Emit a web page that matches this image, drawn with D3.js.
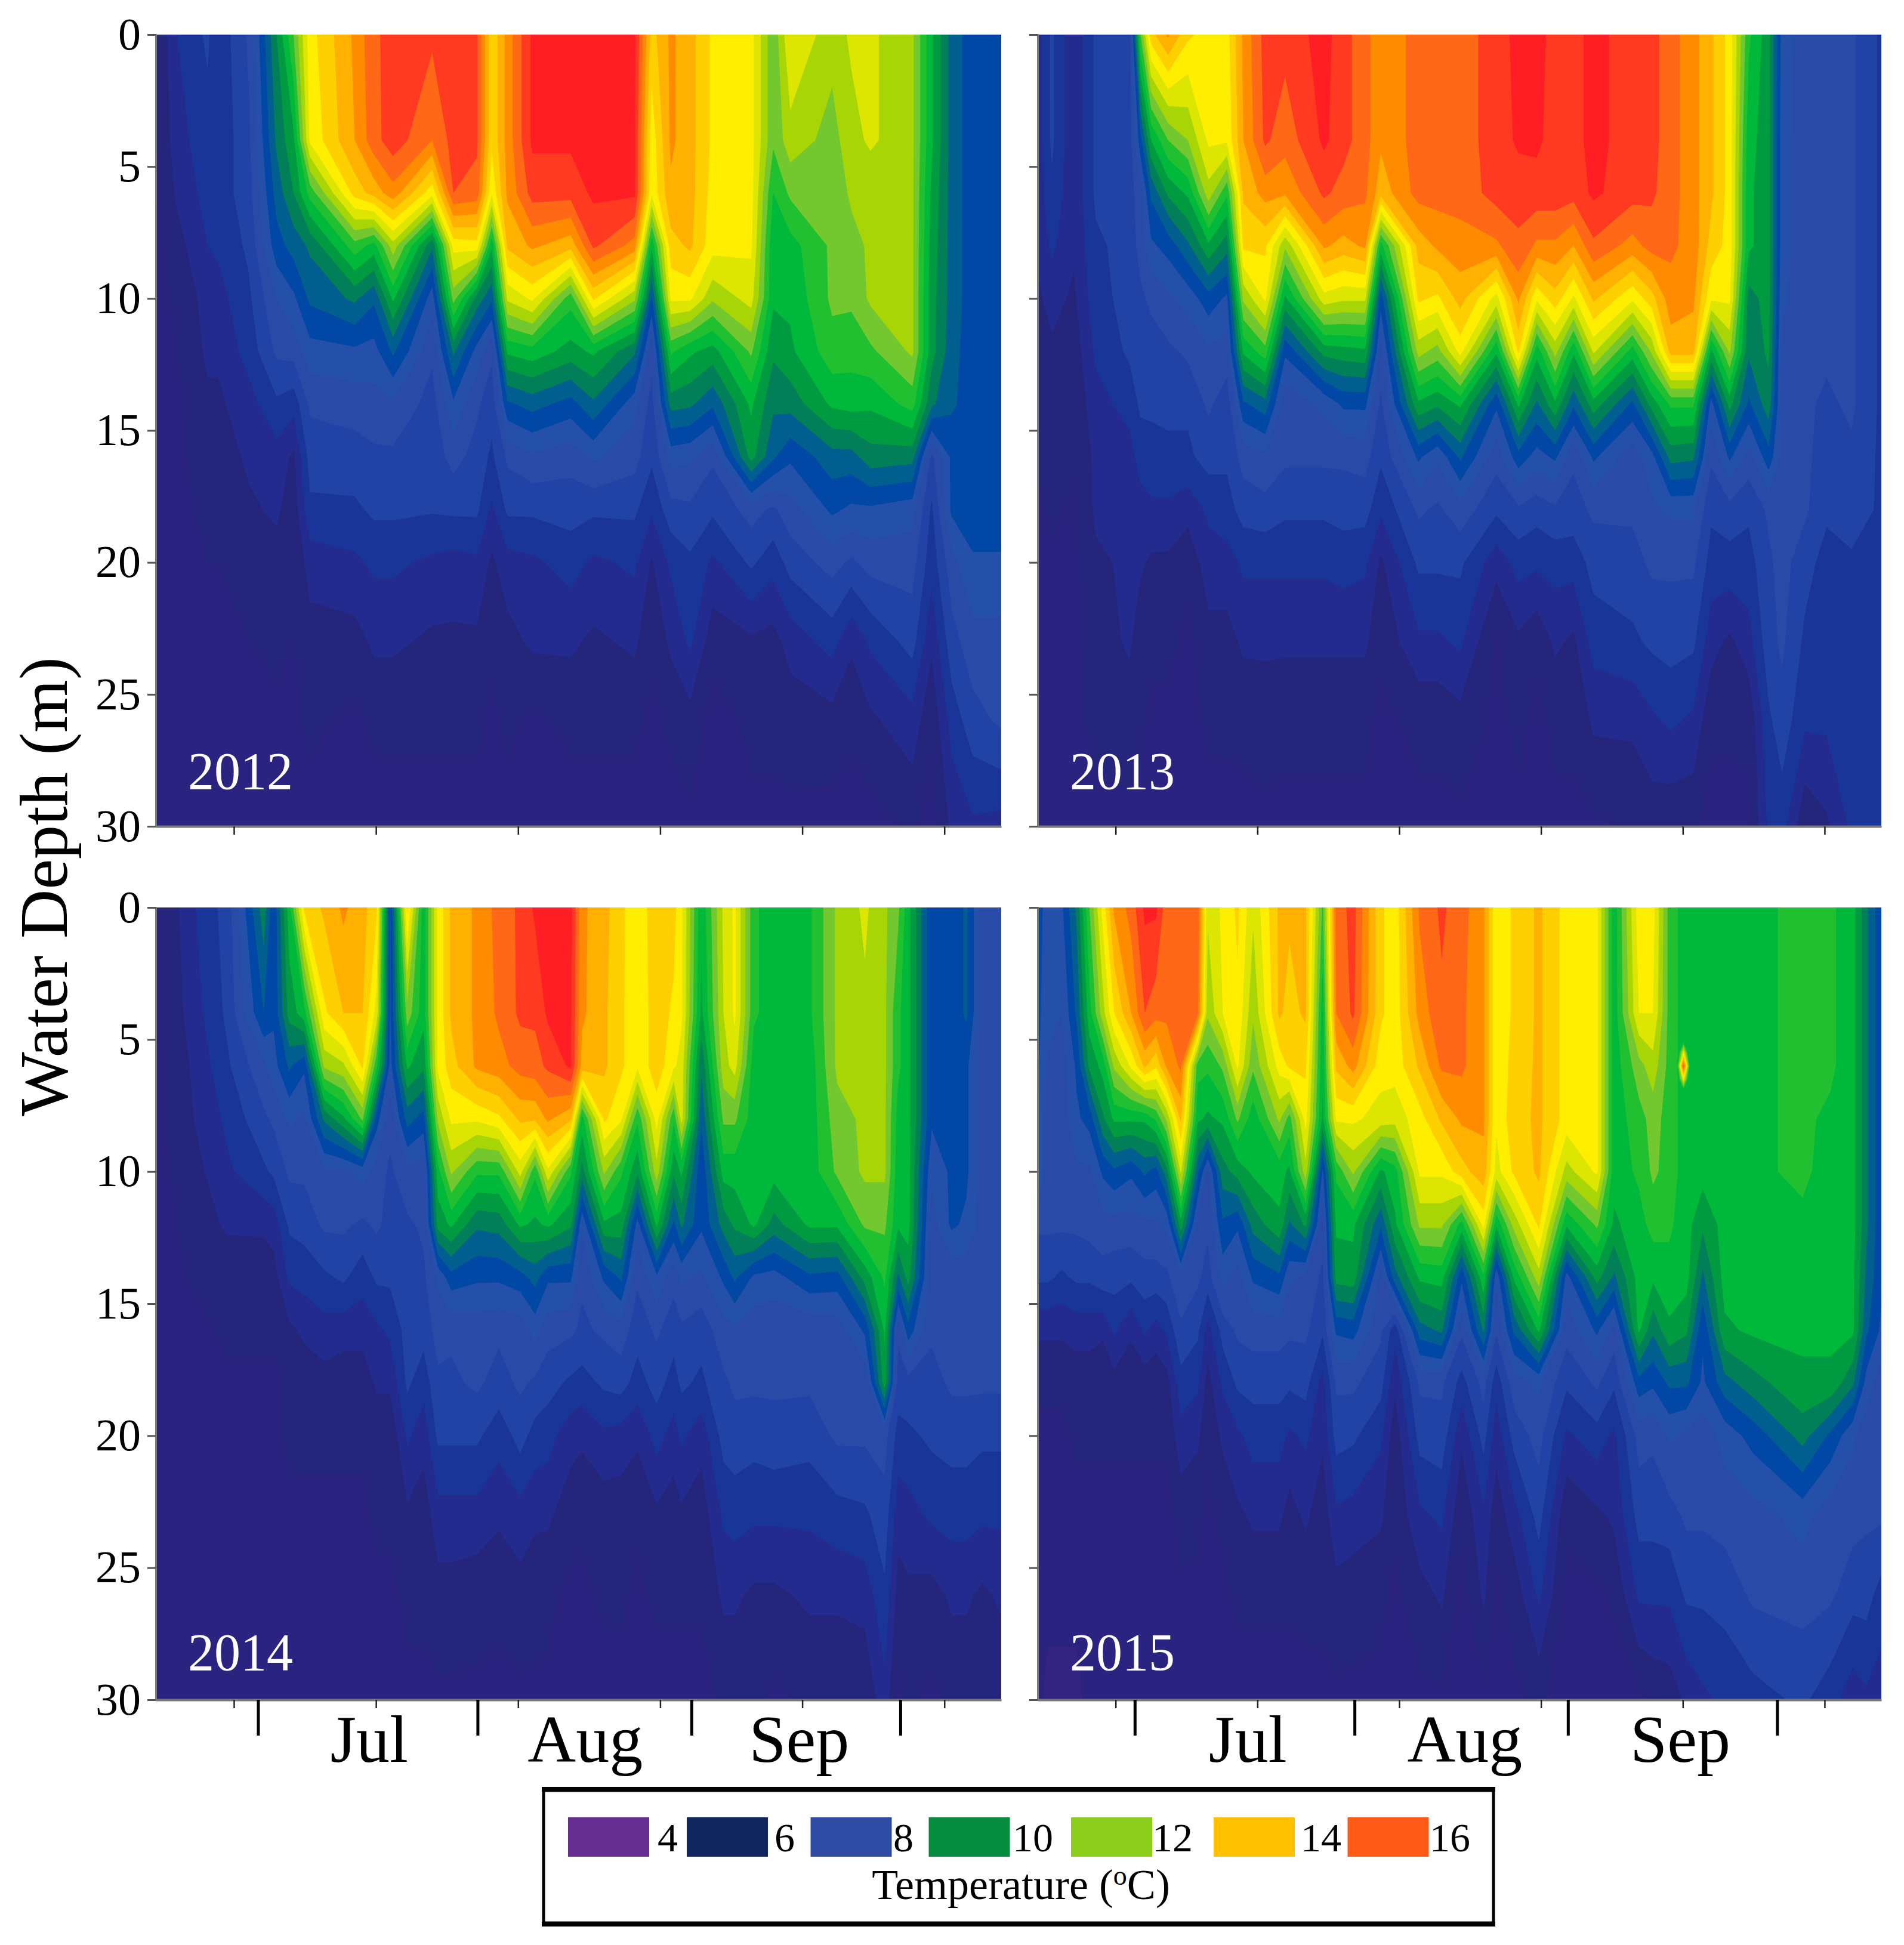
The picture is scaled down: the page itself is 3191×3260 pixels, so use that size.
<!DOCTYPE html>
<html>
<head>
<meta charset="utf-8">
<style>
  body { margin: 0; background: #fff; }
  text { font-family: "Liberation Serif", serif; fill: #000; }
</style>
<script src="https://d3js.org/d3.v7.min.js"></script>
</head>
<body>
<script>
// depth rows of every temperature table (m)
var depths = [0, 4, 6, 8, 10, 12, 14, 16, 18, 20, 23, 26, 30];

// day number of each column, then one temperature profile per column (deg C)
var days2012 = [159,162,166.3,167.8,172.1,176,178.4,180.7,187,189.7,192.4,197.9,200.9,204.2,206.3,208.5,212,217.4,220.6,226.4,228.8,231.5,234.2,237.4,242.8,245.9,248.3,254.2,256.9,259.6,265.5,268.2,271,274,278];
var temp2012 = [
  [5.4,5.4,5.3,5.3,5.3,5.3,5.3,5.3,5.2,5.2,5.2,5.2,5.2],
  [6.5,6.3,6.1,5.8,5.6,5.5,5.4,5.4,5.4,5.3,5.3,5.2,5.2],
  [7.1,6.8,6.7,6.5,6.2,6.1,5.9,5.7,5.6,5.5,5.4,5.3,5.2],
  [6.6,6.6,6.7,6.6,6.3,6.1,5.9,5.7,5.6,5.5,5.4,5.3,5.2],
  [7.6,7.4,7.3,7.1,6.9,6.7,6.3,6.1,5.9,5.6,5.5,5.4,5.3],
  [10,9.6,9.2,8.8,8,7.6,6.9,6.3,6.1,5.8,5.6,5.4,5.3],
  [11.5,10.4,10,9.2,8.4,7.7,6.7,5.9,5.7,5.6,5.5,5.4,5.3],
  [13.3,13.1,11.2,9.6,9.1,8.3,7.6,7.2,6.9,6.2,5.8,5.6,5.3],
  [14.6,14.5,13.7,11.3,9.6,8.4,7.7,7.3,6.9,6.4,5.8,5.4,5.3],
  [15.4,15.3,14.2,10.8,9.1,8.3,7.8,7.4,7.1,6.6,6.1,5.6,5.3],
  [15.7,15.8,14.8,12.3,10.6,9.1,7.9,7.4,7.1,6.6,6.1,5.6,5.3],
  [15.6,15,13.2,9.6,8.2,7.6,7.3,7.2,7.05,6.4,5.9,5.6,5.3],
  [15.7,15.7,15.5,13.2,11.7,9.6,8.4,7.7,7.1,6.3,5.9,5.6,5.3],
  [15.6,15.6,15.3,13.3,9.8,8.3,7.6,7.3,7.1,6.4,5.9,5.6,5.3],
  [13.6,13.6,13.1,10.6,9.1,7.6,7.2,6.9,6.4,5.9,5.6,5.4,5.3],
  [14.7,14.7,14.6,14.1,12.6,10.6,8.9,7.6,7.1,6.3,5.8,5.6,5.3],
  [16.1,16.1,15.7,14.6,13.1,10.8,9.2,7.9,7.1,6.4,6.1,5.4,5.3],
  [16.1,16.1,15.7,14.2,11.2,10.3,8.8,7.7,7.2,6.7,6.1,5.6,5.3],
  [16.1,16.1,16.1,15.6,13.6,10.6,9.4,8.1,7.1,6.4,5.9,5.6,5.3],
  [16.1,16.1,16.1,14.8,12.1,9.6,8.2,7.7,7.1,6.6,6.1,5.6,5.3],
  [13.8,13.2,13.1,10.6,8.9,7.7,7.3,7.1,6.6,5.95,5.6,5.4,5.3],
  [14.6,14.6,14.4,13.8,13.1,11.1,9.7,8.2,7.3,6.6,6.1,5.6,5.3],
  [14.2,14.2,14.2,14.1,13.1,10.6,9.6,8.1,7.4,6.9,6.6,5.8,5.4],
  [13.4,13.4,13.3,13.2,12.1,10.3,9.1,7.6,7.1,6.4,5.7,5.3,5.2],
  [13.2,13.2,13.2,13.1,12.7,11.6,10.6,10.2,7.7,7.1,5.9,5.6,5.4],
  [11.6,11.6,11,10.6,10.6,10.1,9.6,9.1,7.4,6.7,5.8,5.6,5.4],
  [13,12.3,11.6,10.8,10.6,10.4,9.7,8.6,7.8,7.2,6.2,5.7,5.4],
  [12.2,11.8,11.6,11.6,11.6,11.3,10.6,9.3,8.6,7.7,6.7,5.8,5.3],
  [12.6,12.3,12.1,11.8,11.6,11.2,10.7,9.3,8.4,7.4,6.1,5.6,5.3],
  [12.6,12.6,12.1,12.1,12.1,11.4,10.6,9.8,8.4,7.7,6.6,5.9,5.3],
  [12.1,12.1,12.1,12.1,12.1,12.1,11.2,9.7,8.2,7.7,7.2,6.3,5.6],
  [10.6,10.6,10.4,10.3,10.2,10.2,9.6,7.4,6.9,6.7,6.1,5.6,5.3],
  [9.3,9.3,9.3,9.3,9.3,9.2,9.1,8.6,8.6,7.8,7.3,6.7,6.1],
  [8.7,8.7,8.7,8.7,8.7,8.7,8.7,8.7,8.7,8.45,7.8,7.3,6.4],
  [8.7,8.7,8.7,8.7,8.7,8.7,8.7,8.7,8.7,8.45,7.8,7.6,6.3]
];

var days2013 = [159,161,164.1,167.2,172,173.5,175,177.4,180.2,183.1,185.7,188,191.1,193.9,199.4,202.1,205.2,207.4,212.7,215.4,218.6,223.7,226.8,229.4,232,234.6,237.4,242.9,245.6,248.3,251.5,254,256.6,259.3,262.1,264,267.2,270.3,273.8,278];
var temp2013 = [
  [6.3,6.2,6.2,6.1,5.9,5.7,5.6,5.6,5.4,5.3,5.3,5.3,5.3],
  [7.1,7.1,6.9,6.6,6.2,5.9,5.7,5.6,5.6,5.4,5.3,5.3,5.3],
  [6.1,6.1,6.1,6.1,5.9,5.7,5.6,5.6,5.4,5.4,5.4,5.4,5.3],
  [7.1,7.1,7.1,6.9,6.8,6.6,6.3,6.1,6.1,5.9,5.7,5.6,5.4],
  [7.3,7.3,7.3,7.2,7.2,7.1,6.7,6.3,6.1,6.1,6.1,5.7,5.4],
  [11.5,8.8,7.8,7.7,7.4,7.2,7.1,6.7,6.3,6.1,5.6,5.6,5.4],
  [13.8,10.5,9.1,8.4,7.6,7.3,7.1,6.8,6.4,5.9,5.6,5.4,5.3],
  [14.6,11.5,10.1,8.7,7.9,7.4,7.1,6.9,6.4,5.9,5.6,5.4,5.3],
  [13.6,12,10.6,9.4,8.2,7.6,7.1,6.9,6.2,5.6,5.4,5.3,5.3],
  [13.3,13.1,12.3,10.4,8.8,7.9,7.6,7.2,6.6,6.3,5.8,5.6,5.3],
  [13.3,13.1,11.1,9.7,8.4,7.8,7.2,7.1,6.8,6.3,5.8,5.6,5.3],
  [14.6,14.5,14.1,13.6,12.1,10.6,8.9,7.7,7.2,6.6,6.1,5.6,5.4],
  [15.7,15.6,14.7,13.6,13.1,11.3,9.3,7.9,7.3,6.6,6.1,5.7,5.4],
  [15.7,15.2,14.6,12.1,10.4,8.6,7.7,7.6,7.1,6.6,6.1,5.6,5.4],
  [16.2,16.1,15.6,14.6,12.8,10.2,8.1,7.6,7.1,6.6,6.1,5.6,5.4],
  [15.7,15.7,15.3,14.3,12.6,10.3,8.6,7.6,7.2,6.7,6.1,5.6,5.4],
  [15.2,15.2,15.1,14.6,12.6,10.4,8.6,7.7,7.2,6.6,6.1,5.6,5.4],
  [14.6,14.6,14.2,10.8,8.7,7.8,7.4,7.1,6.6,5.9,5.6,5.4,5.3],
  [15.2,15.2,15.2,14.2,13.6,12.2,10.4,8.6,7.6,7.1,6.4,5.6,5.4],
  [15.2,15.2,15.2,14.6,13.4,11.8,10.1,8.1,7.4,7.1,6.4,5.6,5.4],
  [15.3,15.3,15.2,14.8,14.2,13.2,10.6,9.1,7.8,7.1,6.6,5.8,5.4],
  [15.7,15.7,15.7,14.9,12.8,10.6,8.6,7.7,7.1,6.2,5.4,5.4,5.3],
  [16.2,16.1,15.7,15.4,14.6,13.6,10.6,8.8,7.4,6.7,5.9,5.6,5.4],
  [16.2,16.1,15.8,14.9,13.1,10.7,9.4,8.3,7.2,6.6,5.6,5.4,5.3],
  [15.8,15.8,15.8,14.9,13.8,12.2,10.4,8.6,7.4,6.7,6.1,5.6,5.4],
  [15.8,15.8,15.7,14.5,12.9,10.6,9.1,7.6,7.3,6.7,5.9,5.6,5.4],
  [16.2,16.2,16.1,15.4,14.1,12.6,10.3,8.6,7.6,7.2,6.7,6.1,5.4],
  [15.7,15.7,15.7,14.8,13.1,10.8,8.9,7.7,7.6,7.3,6.9,6.1,5.6],
  [15.7,15.7,15.6,15.2,13.8,12.1,10.2,8.3,7.9,7.6,7.1,6.4,5.7],
  [15.2,15.2,15.2,15.1,14.8,14.2,11.1,9.7,8.1,7.6,7.2,6.6,5.6],
  [14.7,14.7,14.7,14.8,14.6,14.2,11.1,9.6,8.1,7.6,7.1,6.4,5.6],
  [14.1,14.1,14.1,13.8,13.1,10.4,8.3,7.6,7.1,6.8,6.2,5.6,5.3],
  [13.3,13.3,13.3,13.3,13.1,12.1,10.2,8.6,7.3,6.8,5.9,5.6,5.3],
  [11.1,10.7,10.6,10.6,9.8,9.6,8.9,7.8,7.1,6.8,6.3,5.6,5.4],
  [10.2,10.2,10.2,10.2,10.2,10.1,9.8,8.8,7.6,7.4,7.3,6.9,6.6],
  [8.3,8.2,8.2,8.2,8.1,7.9,7.9,7.9,7.7,7.7,7.6,7.3,6.7],
  [7.7,7.7,7.7,7.7,7.7,7.6,7.6,7.6,7.6,7.2,6.9,6.6,5.6],
  [7.7,7.7,7.7,7.6,7.6,7.6,7.4,7.3,7.1,6.8,6.7,6.6,5.9],
  [7.6,7.6,7.6,7.6,7.6,7.6,7.6,7.4,7.3,6.9,6.8,6.8,6.6],
  [6.9,6.9,6.9,6.9,6.9,6.9,6.9,6.9,6.9,6.9,6.9,6.9,6.8]
];

var days2014 = [159,165.1,169,174.2,175.6,177.8,179.9,182.7,185.4,188.1,190.1,192,194.4,196.7,198.7,200.6,204.2,207.3,210.3,212.4,214.2,217.4,219,222.1,224.5,226.8,229.5,231.9,233,235.8,238.9,240.5,243.2,246,251,254.9,258.8,261.6,263.5,264.9,268.2,271,273.1,275.3,278];
var temp2014 = [
  [5.3,5.3,5.3,5.3,5.3,5.3,5.3,5.3,5.3,5.3,5.3,5.3,5.3],
  [6.6,6.4,6.2,6.1,5.9,5.7,5.6,5.4,5.3,5.3,5.3,5.3,5.3],
  [7.2,7.1,6.9,6.6,6.4,6.1,5.6,5.6,5.4,5.3,5.3,5.3,5.3],
  [9.8,9,7.9,7.4,6.9,6.1,5.7,5.6,5.4,5.3,5.3,5.3,5.3],
  [8.6,8.6,8.3,7.6,7.1,6.2,5.8,5.6,5.4,5.4,5.3,5.3,5.3],
  [10.8,10.2,9.1,8.1,7.6,7.1,6.6,5.9,5.6,5.6,5.4,5.4,5.3],
  [13.6,10.8,8.6,7.9,7.6,7.2,6.7,6.1,5.7,5.6,5.4,5.4,5.3],
  [14.1,13.4,12.1,9.6,7.9,7.6,6.9,6.3,5.8,5.6,5.4,5.4,5.3],
  [14.6,14,12.4,10.4,7.9,7.6,7.1,6.2,5.7,5.6,5.4,5.4,5.3],
  [14.2,14,13.6,11.6,8.2,7.4,6.7,6.2,5.7,5.6,5.4,5.4,5.3],
  [13.6,12.8,11.1,8.7,7.8,7.6,7.1,6.4,6.1,5.6,5.6,5.4,5.3],
  [8.4,8.4,8.3,7.7,7.4,7.3,7.1,6.6,6.1,5.6,5.6,5.4,5.3],
  [13.6,11.8,10.6,9.2,7.9,7.4,7.3,7.2,7.1,6.6,5.9,5.6,5.4],
  [10.7,10.7,10.1,8.8,7.7,7.6,7.4,7.2,6.7,6.2,5.7,5.6,5.4],
  [13.1,13.1,13.1,12.1,10.8,10.2,8.1,7.7,7.4,7.1,6.3,5.8,5.4],
  [14.1,14.1,13.8,13.1,12.1,10.6,8.8,7.6,7.4,7.1,6.3,5.8,5.4],
  [14.6,14.6,14.6,13.1,11.1,9.6,8.6,7.7,7.6,7.1,6.3,5.7,5.4],
  [15.2,15.1,14.8,13.4,11.1,9.7,8.6,7.6,7.3,6.7,6.1,5.6,5.4],
  [15.6,15.6,15.2,14.1,12.7,10.6,8.8,7.7,7.6,7.2,6.3,5.8,5.4],
  [16.1,15.6,15.3,14.1,11.1,10.4,9.2,8.2,7.4,6.8,6.1,5.7,5.4],
  [16.2,16.1,15.6,14.6,12.9,10.6,8.6,7.7,7.2,6.7,6.1,5.6,5.4],
  [16.2,16.1,16.1,14.1,11.1,10.1,8.6,7.6,6.9,6.2,5.7,5.4,5.3],
  [14.6,14.6,14.3,10.8,9.8,8.1,7.6,7.4,6.8,6.1,5.6,5.4,5.3],
  [14.2,14.1,14.1,13.6,12.1,10.4,8.6,7.6,7.1,6.4,5.7,5.6,5.3],
  [13.6,13.6,13.6,13.1,11.1,10.3,9.1,7.8,7.2,6.3,5.7,5.6,5.3],
  [13.2,13.1,13.1,11.1,10.1,8.3,7.6,7.2,6.8,6.1,5.6,5.4,5.3],
  [13.8,13.8,13.8,13.2,12.3,10.6,8.4,7.6,7.2,6.7,5.9,5.6,5.3],
  [13.7,13.4,13.1,11.1,10.1,8.9,7.7,7.2,6.8,6.3,5.7,5.6,5.3],
  [13.1,13.1,12.8,12.7,10.6,9.6,8.1,7.4,7.1,6.6,5.9,5.6,5.3],
  [10.6,10.4,9.6,9.1,8.6,8.6,7.9,7.2,6.9,6.2,5.7,5.6,5.3],
  [12.6,12.5,12.3,11.6,10.7,9.7,8.6,7.8,7.4,7.2,6.6,6.1,5.6],
  [13.1,13.1,12.7,11.6,10.7,10.1,9.1,7.9,7.6,7.3,6.7,6.1,5.6],
  [11.1,11.1,10.7,10.7,10.7,10.6,8.4,7.7,7.6,7.2,6.6,5.9,5.6],
  [10.7,10.7,10.7,10.7,10.7,9.8,8.3,7.6,7.6,7.3,6.6,5.9,5.4],
  [10.9,10.9,10.7,10.7,10.7,10.6,8.9,7.6,7.6,7.2,6.6,6.1,5.6],
  [12.1,12.1,12.1,11.8,11.6,10.6,8.8,7.7,7.6,7.6,6.8,6.1,5.6],
  [12.6,12.4,12.1,12.1,12.1,11.6,10.2,8.6,7.6,7.6,6.9,6.2,5.6],
  [12.1,12.1,12.1,12.1,12.1,11.6,11.1,10.6,10.3,7.7,7.3,6.9,6.3],
  [11.6,11.1,11.1,10.8,10.7,10.6,9.4,7.6,7.3,6.8,6.2,5.8,5.4],
  [10.7,10.7,10.7,10.7,10.7,10.7,10.2,8.8,7.3,6.9,6.3,5.9,5.6],
  [8.6,8.6,8.6,8.6,8.1,7.8,7.7,7.6,7.3,7.1,6.6,5.8,5.4],
  [8.6,8.6,8.6,8.6,8.6,8.6,7.7,7.6,7.6,7.2,6.7,6.1,5.6],
  [9.1,9.1,8.6,8.6,8.6,8.4,7.7,7.6,7.6,7.2,6.7,6.1,5.6],
  [7.8,7.8,7.8,7.8,7.8,7.8,7.7,7.7,7.6,7.1,6.6,5.9,5.6],
  [7.9,7.9,7.9,7.9,7.7,7.7,7.6,7.6,7.6,7.1,6.6,6.1,5.6]
];

var days2015 = [159,160.4,162.4,164.5,166.3,168.2,169.8,172.2,174.1,175.7,177.2,179.2,181.6,183,185.1,187.2,189.4,193.1,194.5,196.8,199.2,201.1,203.5,207.4,209.4,212.9,216,218.8,221.9,223.7,226.2,229.7,233.6,237.9,240.3,243.8,245.8,248.1,250.5,252.8,255.9,259.9,266.9,270.8,274,275.9,278];
var temp2015 = [
  [8.6,8.6,8.6,8.6,8.6,7.6,7.1,6.1,5.6,5.4,5.3,5.2,5.1],
  [8.4,8.3,7.9,7.7,7.7,7.6,7.1,6.1,5.6,5.4,5.3,5.1,4.9],
  [8.4,8,7.7,7.7,7.7,7.6,6.9,6.1,5.6,5.4,5.3,5.1,4.9],
  [9.6,9.1,8.6,8.4,7.9,7.6,7.1,6.2,5.7,5.6,5.3,5.1,4.9],
  [11.5,10.8,10.1,8.7,7.9,7.7,7.1,6.2,5.7,5.6,5.3,5.2,5.1],
  [13.2,12.3,10.7,9.9,8.6,7.8,7.3,6.1,5.6,5.6,5.3,5.2,5.2],
  [14.6,13.5,12.1,10.6,8.9,7.8,7.2,6.6,5.8,5.6,5.3,5.2,5.2],
  [15.2,14.5,13.1,10.6,8.6,7.8,7.1,6.1,5.6,5.6,5.3,5.2,5.2],
  [16.1,15.5,14.1,10.6,9.1,7.9,7.3,6.6,5.7,5.6,5.3,5.2,5.2],
  [16.1,15.2,13.6,11.1,8.8,7.9,7.3,6.3,5.6,5.6,5.3,5.2,5.2],
  [15.2,15.1,14.6,12.1,9.8,8.1,7.4,6.6,5.8,5.6,5.3,5.2,5.2],
  [15.5,15.5,15.1,14.1,12.6,10.3,7.9,7.4,6.8,6.3,5.7,5.4,5.2],
  [15.3,15.1,11.2,10.6,9.1,7.8,7.6,7.1,6.6,6.1,5.6,5.4,5.2],
  [12.6,12.1,11.1,10.4,7.9,7.6,7.3,6.3,5.8,5.6,5.4,5.4,5.3],
  [13.1,13,11.6,10.6,9.8,8.9,8.2,7.2,6.6,6.1,5.6,5.4,5.3],
  [13.6,13.4,13.1,11.6,10.2,8.6,7.8,7.6,7.1,6.4,5.9,5.6,5.3],
  [12.6,12.1,11.6,10.7,10.6,9.7,8.6,7.7,7.2,6.7,6.1,5.6,5.3],
  [14.1,14.1,13.2,12.1,10.7,10.4,8.9,7.7,7.2,6.7,6.1,5.6,5.3],
  [14.1,13.8,13.6,11.3,10.4,9.4,8.1,7.6,7.1,6.4,5.8,5.6,5.3],
  [14.1,14.1,13.6,13.2,12.3,10.1,7.9,7.6,7.2,6.6,6.1,5.6,5.4],
  [11.4,10.7,10.6,10.4,8.4,7.7,7.4,7.1,6.3,6.1,5.7,5.6,5.4],
  [15.2,15,14.1,13.1,11.1,10.6,10.2,8.6,7.6,7.2,6.4,5.8,5.4],
  [15.7,15.6,14.7,13.1,12.1,10.6,10.3,8.7,7.6,7.1,6.3,5.7,5.4],
  [13.6,13.6,13.2,12.8,10.4,9.1,7.8,7.6,7.2,6.6,6.1,5.6,5.4],
  [13.2,13.2,13.2,12.7,10.8,10.4,9.3,6.7,6.1,5.7,5.6,5.4,5.3],
  [15.1,14.7,14.1,13.3,13.1,12.1,10.6,9.3,7.6,7.2,6.4,5.8,5.4],
  [15.6,15.4,15.1,14.1,13.1,12.1,10.7,9.6,7.6,7.3,6.6,6.1,5.4],
  [15.2,15.1,15.1,14.6,13.8,10.8,8.6,7.6,6.8,6.1,5.6,5.3,5.2],
  [14.6,14.6,14.6,14.6,14.3,13.2,10.9,9.6,7.7,7.2,6.4,6.1,5.4],
  [13.1,13.1,13.1,13.1,12.8,10.6,8.1,7.6,6.7,6.2,5.7,5.4,5.3],
  [13.6,13.6,13.7,13.8,13.6,12.2,10.6,9.1,7.8,7.2,6.3,5.7,5.4],
  [14.1,14.1,14.1,14.1,14.1,13.6,12.3,10.6,8.1,7.7,7.2,6.6,5.6],
  [13.3,13.3,13.3,13.3,12.3,10.6,8.3,7.7,7.1,6.4,5.6,5.4,5.2],
  [13.1,13.1,13.1,13.1,13.1,11.6,10.2,8.6,7.6,6.8,5.9,5.4,5.2],
  [10.7,10.7,10.7,10.7,10.7,10.4,9.4,7.8,7.1,6.4,6.1,5.6,5.2],
  [13.3,13,11.8,11.3,11.1,10.8,10.7,10.6,8.8,7.7,7.2,6.6,5.4],
  [13.2,13,12.3,11.7,11.6,11.2,10.6,9.6,8.6,7.6,7.2,6.6,5.6],
  [11.3,11.3,11.3,11.3,11.3,11.1,10.8,10.4,9.1,8.1,7.3,6.6,5.7],
  [10.7,10.7,10.7,10.7,10.7,10.7,10.7,10.1,9.1,7.9,7.6,7.1,6.1],
  [10.7,10.7,10.7,10.7,10.7,10.1,9.4,8.6,8.4,7.7,7.6,7.1,6.4],
  [10.7,10.7,10.7,10.7,10.7,10.7,10.7,10.4,9.3,8.2,7.7,7.2,6.6],
  [10.9,10.9,10.9,10.9,10.9,10.8,10.7,10.6,9.8,8.7,7.8,7.6,6.8],
  [11.1,11.1,11.1,11.1,11.1,10.9,10.7,10.6,10.4,9.7,8.2,7.7,7.1],
  [11.1,11.1,11.1,10.9,10.8,10.7,10.6,10.6,10.4,8.9,7.7,7.6,6.7],
  [10.7,10.7,10.7,10.7,10.7,10.7,10.6,10.6,9.6,8.1,7.7,7.2,6.2],
  [9.6,9.6,9.6,9.6,9.6,9.6,9.4,9.1,8.3,7.7,7.6,7.2,6.4],
  [8.6,8.6,8.6,8.6,8.6,8.6,8.6,8.4,7.7,7.6,7.6,6.8,6.2]
];

// warm spot near 6 m in Sep 2015, its own small table
var spotDays = [249.2, 250.1, 251];
var spotDepths = [4.9, 5.5, 6, 6.5, 7.1];
var spotTemp = [
  [10, 10, 10.8, 10, 10],
  [10, 13, 15.6, 13, 10],
  [10, 10, 10.8, 10, 10]
];

var years = ['2012', '2013', '2014', '2015'];
var allDays = [days2012, days2013, days2014, days2015];
var allTemps = [temp2012, temp2013, temp2014, temp2015];

// filled contour levels and the colour above each one
var baseColor = '#33257f';
var levels = [5, 5.5, 6, 6.5, 7, 7.5, 8, 8.5, 9, 9.5, 10, 10.5, 11, 11.5, 12, 12.5, 13, 13.5, 14, 14.5, 15, 15.5, 16];
var levelColors = ['#2a2380', '#25267b', '#232b8e', '#1a3598', '#2243a6', '#2a4aa8', '#2450aa', '#0047a6', '#005f8e', '#007f58', '#009a40', '#00b83a', '#20c030', '#72c82e', '#a8d505', '#dce600', '#ffee00', '#ffd000', '#ffb000', '#ff8c00', '#ff6816', '#ff3a20', '#ff1e24'];

var depthTicks = [0, 5, 10, 15, 20, 25, 30];
var minorTicks = [170, 190, 210, 230, 250, 270];
var monthTicks = [[173.4, 204.3, 234.4, 263.8], [172.7, 203.7, 233.8, 263.3]];
var monthCenters = [[189, 219.4, 249.5], [188.6, 219.2, 249.6]];
var monthNames = ['Jul', 'Aug', 'Sep'];

var legendLabels = ['4', '6', '8', '10', '12', '14', '16'];
var legendColors = ['#662d91', '#11265c', '#2f4ba3', '#068c3f', '#8ccc1a', '#ffc000', '#ff5a16'];

var svg = d3.select('body').append('svg')
  .attr('width', 3191)
  .attr('height', 3260);

var panels = [
  { x0: 261, x1: 1678, y0: 58, y1: 1385, labelled: true },
  { x0: 1739, x1: 3153, y0: 58, y1: 1385, labelled: false },
  { x0: 261, x1: 1678, y0: 1521, y1: 2849, labelled: true, months: 0 },
  { x0: 1739, x1: 3153, y0: 1521, y1: 2849, labelled: false, months: 1 }
];

function drawContours(g, days, rows, table, x_scale, y_scale, first_level) {
  var nx = days.length, ny = rows.length;
  var values = [];
  for (var j = 0; j < ny; j++) {
    for (var i = 0; i < nx; i++) values.push(table[i][j]);
  }
  var col = d3.scaleLinear().domain(d3.range(nx)).range(days).clamp(true);
  var row = d3.scaleLinear().domain(d3.range(ny)).range(rows).clamp(true);
  // grid value i sits at contour coordinate i + 0.5
  var path = d3.geoPath(d3.geoTransform({
    point: function(x, y) {
      this.stream.point(x_scale(col(x - 0.5)), y_scale(row(y - 0.5)));
    }
  }));
  var used = levels.slice(first_level);
  var shapes = d3.contours().size([nx, ny]).thresholds(used)(values);
  g.selectAll(null)
    .data(shapes)
    .enter().append('path')
    .attr('d', path)
    .attr('fill', function(d, i) { return levelColors[i + first_level]; });
}

panels.forEach(function(p, k) {
  var x_scale = d3.scaleLinear().domain([159, 278]).range([p.x0, p.x1]);
  var y_scale = d3.scaleLinear().domain([0, 30]).range([p.y0, p.y1]);
  var g = svg.append('g');

  g.append('rect')
    .attr('x', p.x0).attr('y', p.y0)
    .attr('width', p.x1 - p.x0).attr('height', p.y1 - p.y0)
    .attr('fill', baseColor);

  drawContours(g, allDays[k], depths, allTemps[k], x_scale, y_scale, 0);
  if (years[k] == '2015') {
    drawContours(g, spotDays, spotDepths, spotTemp, x_scale, y_scale, 11);
  }

  g.append('text')
    .attr('x', p.x0 + 54)
    .attr('y', p.y1 - (k < 2 ? 63 : 50))
    .style('font-size', '88px')
    .style('fill', '#fff')
    .text(years[k]);

  var y_axis = svg.append('g')
    .attr('transform', 'translate(' + p.x0 + ',0)')
    .call(d3.axisLeft(y_scale).tickValues(depthTicks).tickSize(14).tickPadding(11)
      .tickFormat(p.labelled ? d3.format('d') : ''));
  y_axis.select('.domain').attr('stroke', '#777').attr('stroke-width', 3);
  y_axis.selectAll('line').attr('stroke', '#555').attr('stroke-width', 3);
  y_axis.selectAll('text').attr('fill', '#000').style('font-size', '76px')
    .style('font-family', '"Liberation Serif", serif');

  var x_axis = svg.append('g')
    .attr('transform', 'translate(0,' + p.y1 + ')')
    .call(d3.axisBottom(x_scale).tickValues(minorTicks).tickSize(14).tickSizeOuter(0).tickFormat(''));
  x_axis.select('.domain').attr('stroke', '#777').attr('stroke-width', 4);
  x_axis.selectAll('line').attr('stroke', '#222').attr('stroke-width', 2.5);

  if (p.months !== undefined) {
    var big = svg.append('g')
      .attr('transform', 'translate(0,' + p.y1 + ')')
      .call(d3.axisBottom(x_scale).tickValues(monthTicks[p.months]).tickSize(60).tickFormat(''));
    big.select('.domain').remove();
    big.selectAll('line').attr('stroke', '#000').attr('stroke-width', 5);

    var names = svg.append('g')
      .attr('transform', 'translate(0,' + p.y1 + ')')
      .call(d3.axisBottom(x_scale).tickValues(monthCenters[p.months]).tickSize(0).tickPadding(24)
        .tickFormat(function(d, i) { return monthNames[i]; }));
    names.select('.domain').remove();
    names.selectAll('text').attr('fill', '#000').style('font-size', '112px')
      .style('font-family', '"Liberation Serif", serif');
  }
});

// y axis title
svg.append('text')
  .attr('transform', 'translate(112,1486)rotate(-90)')
  .attr('text-anchor', 'middle')
  .style('font-size', '114px')
  .text('Water Depth (m)');

// legend
var legend_x = d3.scaleOrdinal().domain(legendLabels).range([952, 1151, 1358.5, 1556.5, 1795, 2034, 2258.5]);
var legend_label_x = d3.scaleOrdinal().domain(legendLabels).range([1102, 1298, 1497, 1697, 1931, 2180, 2396]);

svg.append('rect')
  .attr('x', 911).attr('y', 3001)
  .attr('width', 1592).attr('height', 222)
  .attr('fill', 'none').attr('stroke', '#000').attr('stroke-width', 5);
svg.append('line').attr('x1', 908).attr('x2', 2506).attr('y1', 2999).attr('y2', 2999).attr('stroke', '#000').attr('stroke-width', 8);
svg.append('line').attr('x1', 908).attr('x2', 2506).attr('y1', 3225).attr('y2', 3225).attr('stroke', '#000').attr('stroke-width', 8);

svg.selectAll('rect.swatch')
  .data(legendLabels)
  .enter().append('rect')
  .attr('class', 'swatch')
  .attr('x', function(d) { return legend_x(d); })
  .attr('y', 3046)
  .attr('width', 136).attr('height', 66)
  .attr('fill', function(d, i) { return legendColors[i]; });

svg.selectAll('text.swatch-label')
  .data(legendLabels)
  .enter().append('text')
  .attr('class', 'swatch-label')
  .attr('x', function(d) { return legend_label_x(d); })
  .attr('y', 3103)
  .style('font-size', '68px')
  .text(function(d) { return d; });

var legend_title = svg.append('text')
  .attr('x', 1711).attr('y', 3183)
  .attr('text-anchor', 'middle')
  .style('font-size', '72px');
legend_title.append('tspan').text('Temperature (');
legend_title.append('tspan').attr('dy', -24).style('font-size', '46px').text('o');
legend_title.append('tspan').attr('dy', 24).text('C)');
</script>
</body>
</html>
